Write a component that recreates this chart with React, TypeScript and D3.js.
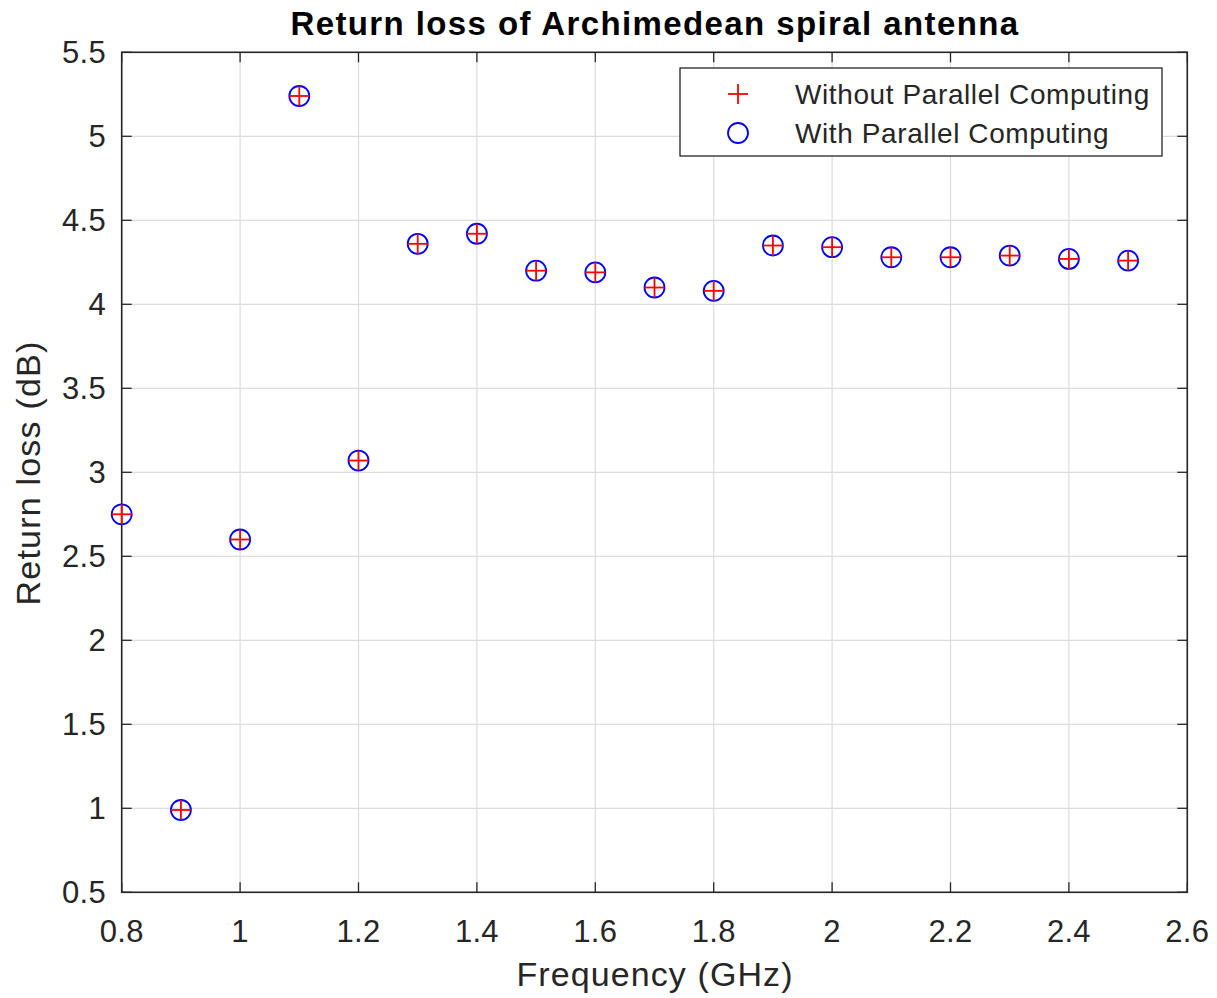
import React from "react";
import * as d3 from "d3";

const frequencies = [0.8, 0.9, 1.0, 1.1, 1.2, 1.3, 1.4, 1.5, 1.6, 1.7, 1.8, 1.9, 2.0, 2.1, 2.2, 2.3, 2.4, 2.5];
const withoutParallel = [2.75, 0.99, 2.6, 5.24, 3.07, 4.36, 4.42, 4.2, 4.19, 4.1, 4.08, 4.35, 4.34, 4.28, 4.28, 4.29, 4.27, 4.26];
const withParallel = [2.75, 0.99, 2.6, 5.24, 3.07, 4.36, 4.42, 4.2, 4.19, 4.1, 4.08, 4.35, 4.34, 4.28, 4.28, 4.29, 4.27, 4.26];
const xTicks = [0.8, 1, 1.2, 1.4, 1.6, 1.8, 2, 2.2, 2.4, 2.6];
const yTicks = [0.5, 1, 1.5, 2, 2.5, 3, 3.5, 4, 4.5, 5, 5.5];
const legendLabels = ["Without Parallel Computing", "With Parallel Computing"];

export default function App() {
  const W = 1217, H = 998;
  const L = 121.7, R = 1187.3, T = 52.3, B = 892.3;
  const x = d3.scaleLinear().domain([0.8, 2.6]).range([L, R]);
  const y = d3.scaleLinear().domain([0.5, 5.5]).range([B, T]);
  const axisColor = "#262626";
  const gridColor = "#dcdcdc";
  const font = "'Liberation Sans', Arial, Helvetica, sans-serif";
  const tick = 10;
  const r = 10;
  const arm = 10;
  return (
    <svg width={W} height={H} style={{ position: "absolute", left: 0, top: 0, background: "#fff" }} fontFamily={font}>
      <rect x={0} y={0} width={W} height={H} fill="#fff" />
      {xTicks.map((t, i) => (
        <line key={"gx" + i} x1={x(t)} x2={x(t)} y1={T} y2={B} stroke={gridColor} strokeWidth={1.2} />
      ))}
      {yTicks.map((t, i) => (
        <line key={"gy" + i} x1={L} x2={R} y1={y(t)} y2={y(t)} stroke={gridColor} strokeWidth={1.2} />
      ))}
      {xTicks.map((t, i) => (
        <g key={"tx" + i}>
          <line x1={x(t)} x2={x(t)} y1={B} y2={B - tick} stroke={axisColor} strokeWidth={1.3} />
          <line x1={x(t)} x2={x(t)} y1={T} y2={T + tick} stroke={axisColor} strokeWidth={1.3} />
          <text x={x(t)} y={942} textAnchor="middle" fontSize={31} letterSpacing={0.3} fill={axisColor}>{String(t)}</text>
        </g>
      ))}
      {yTicks.map((t, i) => (
        <g key={"ty" + i}>
          <line x1={L} x2={L + tick} y1={y(t)} y2={y(t)} stroke={axisColor} strokeWidth={1.3} />
          <line x1={R} x2={R - tick} y1={y(t)} y2={y(t)} stroke={axisColor} strokeWidth={1.3} />
          <text x={106} y={y(t) + 11} textAnchor="end" fontSize={31} letterSpacing={0.3} fill={axisColor}>{String(t)}</text>
        </g>
      ))}
      <rect x={L} y={T} width={R - L} height={B - T} fill="none" stroke={axisColor} strokeWidth={1.6} />
      {frequencies.map((f, i) => (
        <circle key={"c" + i} cx={x(f)} cy={y(withParallel[i])} r={r} fill="none" stroke="#0000ff" strokeWidth={1.8} />
      ))}
      {frequencies.map((f, i) => {
        const cx = x(f), cy = y(withoutParallel[i]);
        return (
          <g key={"p" + i} stroke="#ff0000" strokeWidth={1.8}>
            <line x1={cx - arm} x2={cx + arm} y1={cy} y2={cy} />
            <line x1={cx} x2={cx} y1={cy - arm} y2={cy + arm} />
          </g>
        );
      })}
      <text x={655} y={35} textAnchor="middle" fontSize={33} fontWeight="bold" letterSpacing={1.4} fill="#000">
        Return loss of Archimedean spiral antenna
      </text>
      <text x={655} y={986} textAnchor="middle" fontSize={34} letterSpacing={1.1} fill={axisColor}>Frequency (GHz)</text>
      <text transform={`translate(40, 473) rotate(-90)`} textAnchor="middle" fontSize={34} letterSpacing={1.2} fill={axisColor}>Return loss (dB)</text>
      <rect x={680} y={68} width={482} height={88} fill="#fff" stroke={axisColor} strokeWidth={1.3} />
      <g stroke="#ff0000" strokeWidth={1.8}>
        <line x1={728} x2={748} y1={94} y2={94} />
        <line x1={738} x2={738} y1={84} y2={104} />
      </g>
      <circle cx={738} cy={133} r={r} fill="none" stroke="#0000ff" strokeWidth={1.8} />
      <text x={795} y={104} fontSize={28} letterSpacing={0.6} fill={axisColor}>{legendLabels[0]}</text>
      <text x={795} y={143} fontSize={28} letterSpacing={0.6} fill={axisColor}>{legendLabels[1]}</text>
    </svg>
  );
}
